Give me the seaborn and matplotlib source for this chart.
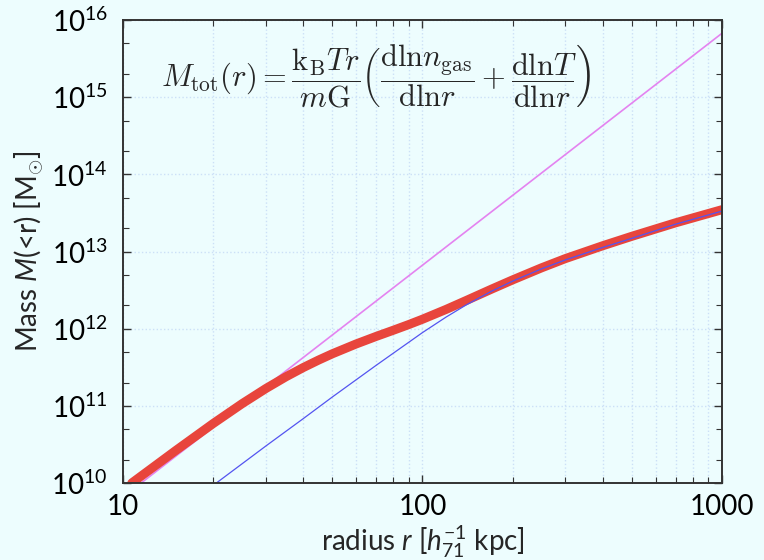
import numpy as np
import pandas as pd
import matplotlib
matplotlib.use("Agg")
import matplotlib.pyplot as plt
import seaborn as sns
from matplotlib.ticker import LogLocator, NullFormatter

# ===============================
# Datos
# ===============================
# curva total (roja)
r_total = [10.7, 15, 20, 25, 30, 35, 40, 45, 50, 60, 70, 80, 90, 100, 120, 140, 170, 200,
           250, 300, 400, 500, 700, 1000]
logm_total = [10.0, 10.421, 10.771, 11.029, 11.225, 11.377, 11.497, 11.594, 11.675, 11.802,
              11.90, 11.981, 12.054, 12.123, 12.251, 12.366, 12.513, 12.633, 12.79, 12.909,
              13.076, 13.198, 13.373, 13.543]

# componente oscura (azul)
r_dm = [20.5, 30, 40, 50, 70, 100, 120, 140, 170, 200, 250, 300, 400, 500, 700, 1000]
logm_dm = [10.0, 10.48, 10.835, 11.115, 11.525, 11.95, 12.152, 12.309, 12.486, 12.617,
           12.777, 12.892, 13.054, 13.172, 13.355, 13.525]

# pendiente r^3 (violeta)
r_cubo = [11.5, 1000]
logm_cubo = [10.0, 15.83]

xticks = [10, 100, 1000]
yticks = [1e10, 1e11, 1e12, 1e13, 1e14, 1e15, 1e16]

# ===============================
# Estilo
# ===============================
fondo = "#EDFDFE"
sns.set_style("ticks")
plt.rcParams.update({
    "font.family": ["Lato", "DejaVu Sans"],
    "mathtext.fontset": "custom",
    "mathtext.rm": "Lato",
    "mathtext.it": "Lato:italic",
    "mathtext.bf": "Lato:bold",
    "axes.edgecolor": "#333333",
    "axes.linewidth": 1.4,
})

fig = plt.figure(figsize=(7.64, 5.60), dpi=100, facecolor=fondo)
ax = fig.add_axes([0.161, 0.1375, 0.784, 0.8265])
ax.set_facecolor(fondo)

sns.lineplot(x=r_cubo, y=np.power(10.0, logm_cubo), ax=ax, color="#E483F0", linewidth=1.2)
sns.lineplot(x=r_total, y=np.power(10.0, logm_total), ax=ax, color="#E8453C", linewidth=6.5)
sns.lineplot(x=r_dm, y=np.power(10.0, logm_dm), ax=ax, color="#5454F0", linewidth=0.9)

ax.set_xscale("log")
ax.set_yscale("log")
ax.set_xlim(10, 1000)
ax.set_ylim(1e10, 1e16)
ax.set_xticks(xticks)
ax.set_yticks(yticks)
ax.xaxis.set_minor_locator(LogLocator(base=10, subs=np.arange(2, 10)))
ax.yaxis.set_minor_locator(LogLocator(base=10, subs=[2, 5]))
ax.xaxis.set_minor_formatter(NullFormatter())
ax.yaxis.set_minor_formatter(NullFormatter())
ax.set_xticklabels(["10", "100", "1000"])

ax.tick_params(which="both", direction="in", top=True, right=True, colors="#333333",
               labelcolor="black", labelsize=20)
ax.tick_params(which="major", length=6, width=1.0)
ax.tick_params(which="minor", length=4, width=0.8)
ax.tick_params(axis="x", pad=8)
ax.tick_params(axis="y", pad=11)

# rejilla punteada
ax.grid(True, which="major", axis="both", color="#CCE0F7", linestyle=":", linewidth=1.0)
ax.grid(True, which="minor", axis="x", color="#CCE0F7", linestyle=":", linewidth=1.0)
ax.set_axisbelow(True)

ax.set_xlabel(r"radius $r$ [$h_{71}^{-1}$ kpc]", fontsize=20, labelpad=2)
ax.set_ylabel(r"Mass $M$(<r) [M$_{\odot}$]", fontsize=20, labelpad=4)

formula = (r"$M_{\rm tot}(r) = \dfrac{{\rm k}_{\rm B}Tr}{m{\rm G}}"
           r"\left(\dfrac{{\rm dln}n_{\rm gas}}{{\rm dln}r}+\dfrac{{\rm dln}T}{{\rm dln}r}\right)$")
ax.text(0.423, 0.88, formula, transform=ax.transAxes, ha="center", va="center",
        fontsize=22, math_fontfamily="cm")

fig.savefig("out.png", dpi=100, facecolor=fondo)
